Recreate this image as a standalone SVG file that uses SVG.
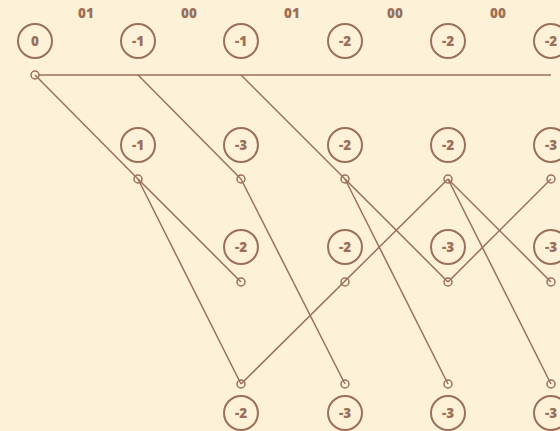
<svg xmlns="http://www.w3.org/2000/svg" width="560" height="431" viewBox="0 0 560 431">
<style>
.bg{fill:#fdf2d8}
.n{fill:none;stroke:#9c6f5a;stroke-width:2}
.p{fill:none;stroke:#9c6f5a;stroke-width:1.5}
.t{font-family:"Open Sans","DejaVu Sans",sans-serif;font-weight:800;font-size:13.5px;fill:#9c6f5a;text-anchor:middle;dominant-baseline:central}
.l{font-family:"Open Sans","DejaVu Sans",sans-serif;font-weight:800;font-size:13.5px;fill:#9c6f5a;text-anchor:middle;dominant-baseline:central}
.e{stroke:#9c6f5a;stroke-width:1.5;fill:none}
</style>
<rect class="bg" x="0" y="0" width="560" height="431"/>
<g id="labels">
<text class="l" x="86" y="13">01</text>
<text class="l" x="189" y="13">00</text>
<text class="l" x="292" y="13">01</text>
<text class="l" x="395" y="13">00</text>
<text class="l" x="498" y="13">00</text>
</g>
<g id="connectors">
<line class="e" x1="39" y1="75" x2="551" y2="75"/>
<line class="e" x1="35" y1="75" x2="138" y2="179"/>
<line class="e" x1="138" y1="75" x2="241" y2="179"/>
<line class="e" x1="241" y1="75" x2="345" y2="179"/>
<line class="e" x1="138" y1="179" x2="241" y2="282"/>
<line class="e" x1="138" y1="179" x2="241" y2="384"/>
<line class="e" x1="241" y1="179" x2="345" y2="384"/>
<line class="e" x1="345" y1="179" x2="448" y2="282"/>
<line class="e" x1="345" y1="179" x2="448" y2="384"/>
<line class="e" x1="241" y1="384" x2="448" y2="179"/>
<line class="e" x1="448" y1="179" x2="551" y2="282"/>
<line class="e" x1="448" y1="179" x2="551" y2="384"/>
<line class="e" x1="448" y1="282" x2="551" y2="179"/>
</g>
<g id="n0"><circle class="n" cx="35" cy="41" r="17"/><text class="t" x="35" y="41">0</text></g>
<g id="n1"><circle class="n" cx="138" cy="41" r="17"/><text class="t" x="138" y="41">-1</text></g>
<g id="n2"><circle class="n" cx="241" cy="41" r="17"/><text class="t" x="241" y="41">-1</text></g>
<g id="n3"><circle class="n" cx="345" cy="41" r="17"/><text class="t" x="345" y="41">-2</text></g>
<g id="n4"><circle class="n" cx="448" cy="41" r="17"/><text class="t" x="448" y="41">-2</text></g>
<g id="n5"><circle class="n" cx="551" cy="41" r="17"/><text class="t" x="551" y="41">-2</text></g>
<g id="r2a"><circle class="n" cx="138" cy="145" r="17"/><text class="t" x="138" y="145">-1</text></g>
<g id="r2b"><circle class="n" cx="241" cy="145" r="17"/><text class="t" x="241" y="145">-3</text></g>
<g id="r2c"><circle class="n" cx="345" cy="145" r="17"/><text class="t" x="345" y="145">-2</text></g>
<g id="r2d"><circle class="n" cx="448" cy="145" r="17"/><text class="t" x="448" y="145">-2</text></g>
<g id="r2e"><circle class="n" cx="551" cy="145" r="17"/><text class="t" x="551" y="145">-3</text></g>
<g id="r3b"><circle class="n" cx="241" cy="247" r="17"/><text class="t" x="241" y="247">-2</text></g>
<g id="r3c"><circle class="n" cx="345" cy="247" r="17"/><text class="t" x="345" y="247">-2</text></g>
<g id="r3d"><circle class="n" cx="448" cy="247" r="17"/><text class="t" x="448" y="247">-3</text></g>
<g id="r3e"><circle class="n" cx="551" cy="247" r="17"/><text class="t" x="551" y="247">-3</text></g>
<g id="r4b"><circle class="n" cx="241" cy="413" r="17"/><text class="t" x="241" y="413">-2</text></g>
<g id="r4c"><circle class="n" cx="345" cy="413" r="17"/><text class="t" x="345" y="413">-3</text></g>
<g id="r4d"><circle class="n" cx="448" cy="413" r="17"/><text class="t" x="448" y="413">-3</text></g>
<g id="r4e"><circle class="n" cx="551" cy="413" r="17"/><text class="t" x="551" y="413">-3</text></g>
<g id="ports">
<circle class="p bg" cx="35" cy="75" r="4"/>
<circle class="p bg" cx="138" cy="179" r="4"/>
<circle class="p bg" cx="241" cy="179" r="4"/>
<circle class="p bg" cx="345" cy="179" r="4"/>
<circle class="p bg" cx="448" cy="179" r="4"/>
<circle class="p bg" cx="551" cy="179" r="4"/>
<circle class="p bg" cx="241" cy="282" r="4"/>
<circle class="p bg" cx="345" cy="282" r="4"/>
<circle class="p bg" cx="448" cy="282" r="4"/>
<circle class="p bg" cx="551" cy="282" r="4"/>
<circle class="p bg" cx="241" cy="384" r="4"/>
<circle class="p bg" cx="345" cy="384" r="4"/>
<circle class="p bg" cx="448" cy="384" r="4"/>
<circle class="p bg" cx="551" cy="384" r="4"/>
</g>
</svg>
